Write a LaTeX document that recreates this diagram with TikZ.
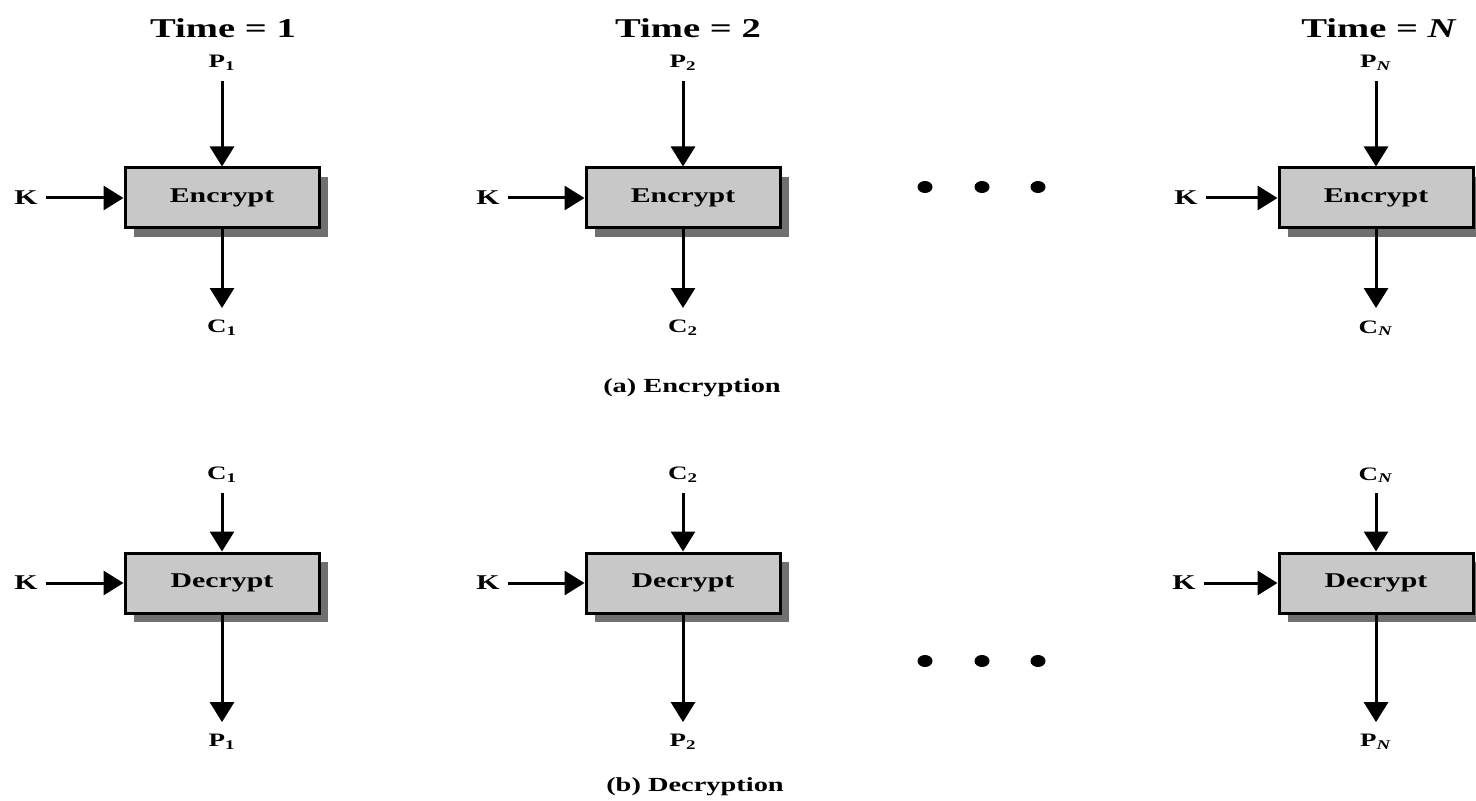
\documentclass[tikz,border=0pt]{standalone}
\usepackage{fontspec}
\setmainfont{Liberation Serif}[BoldFont={Liberation Serif Bold},FakeStretch=1.42]
\usetikzlibrary{arrows.meta,shadows,shapes.geometric}
\definecolor{boxgray}{HTML}{C8C8C8}
\definecolor{shadowgray}{HTML}{707070}
\tikzset{
  cipherbox/.style={draw=black, line width=1.5pt, fill=boxgray,
    minimum width=97pt, minimum height=30pt, inner sep=0pt,
    font=\fontsize{10.5}{12}\selectfont\bfseries,
    drop shadow={shadow xshift=4.5pt, shadow yshift=-4.5pt, fill=shadowgray, opacity=1}},
  lbl/.style={inner sep=1pt, font=\fontsize{9.5}{11}\selectfont\bfseries},
  keylbl/.style={inner sep=1pt, font=\fontsize{10.5}{12}\selectfont\bfseries},
  timelbl/.style={inner sep=0pt, font=\fontsize{13.6}{16}\selectfont\bfseries},
  caption/.style={inner sep=0pt, font=\fontsize{10}{12}\selectfont\bfseries},
  arr/.style={line width=1.5pt, -{Triangle[length=10pt,width=12pt]}},
  dot/.style={fill=black, ellipse, minimum width=7.5pt, minimum height=6pt, inner sep=0pt}
}
\begin{document}
\begin{tikzpicture}[x=0.5pt,y=-0.5pt]
\useasboundingbox (0,0) rectangle (1476,801);

% time headings
\node[timelbl] (t1) at (223,28) {Time = 1};
\node[timelbl] (t2) at (688,28) {Time = 2};
\node[timelbl] (tN) at (1379,28) {Time = \textit{N}};

% ---- (a) encryption row ----
\node[cipherbox] (e1) at (222,198) {Encrypt};
\node[cipherbox] (e2) at (683,198) {Encrypt};
\node[cipherbox] (eN) at (1376,198) {Encrypt};

\node[lbl] (ep1) at (222,63) {P\textsubscript{1}};
\node[lbl] (ep2) at (683,63) {P\textsubscript{2}};
\node[lbl] (epN) at (1376,63) {P\textsubscript{\textit{N}}};
\node[lbl] (ec1) at (222,328) {C\textsubscript{1}};
\node[lbl] (ec2) at (683,328) {C\textsubscript{2}};
\node[lbl] (ecN) at (1376,328) {C\textsubscript{\textit{N}}};
\node[keylbl] (ek1) at (26,198) {K};
\node[keylbl] (ek2) at (488,198) {K};
\node[keylbl] (ekN) at (1186,198) {K};

\foreach \i in {1,2,N}{
  \draw[arr, shorten <=4pt] (ep\i.south) -- (e\i.north);
  \draw[arr, shorten >=5pt] (e\i.south) -- (ec\i.north);
  \draw[arr, shorten <=3pt] (ek\i.east) -- (e\i.west);
}

\node[dot] (ed1) at (925,187) {};
\node[dot] (ed2) at (982,187) {};
\node[dot] (ed3) at (1038,187) {};

\node[caption] (capa) at (692,388) {(a) Encryption};

% ---- (b) decryption row ----
\node[cipherbox] (d1) at (222,583) {Decrypt};
\node[cipherbox] (d2) at (683,583) {Decrypt};
\node[cipherbox] (dN) at (1376,583) {Decrypt};

\node[lbl] (dc1) at (222,475) {C\textsubscript{1}};
\node[lbl] (dc2) at (683,475) {C\textsubscript{2}};
\node[lbl] (dcN) at (1376,475) {C\textsubscript{\textit{N}}};
\node[lbl] (dp1) at (222,742) {P\textsubscript{1}};
\node[lbl] (dp2) at (683,742) {P\textsubscript{2}};
\node[lbl] (dpN) at (1376,742) {P\textsubscript{\textit{N}}};
\node[keylbl] (dk1) at (26,583) {K};
\node[keylbl] (dk2) at (488,583) {K};
\node[keylbl] (dkN) at (1184,583) {K};

\foreach \i in {1,2,N}{
  \draw[arr, shorten <=4pt] (dc\i.south) -- (d\i.north);
  \draw[arr, shorten >=5pt] (d\i.south) -- (dp\i.north);
  \draw[arr, shorten <=3pt] (dk\i.east) -- (d\i.west);
}

\node[dot] (dd1) at (925,661) {};
\node[dot] (dd2) at (982,661) {};
\node[dot] (dd3) at (1038,661) {};

\node[caption] (capb) at (695,787) {(b) Decryption};
\end{tikzpicture}
\end{document}
